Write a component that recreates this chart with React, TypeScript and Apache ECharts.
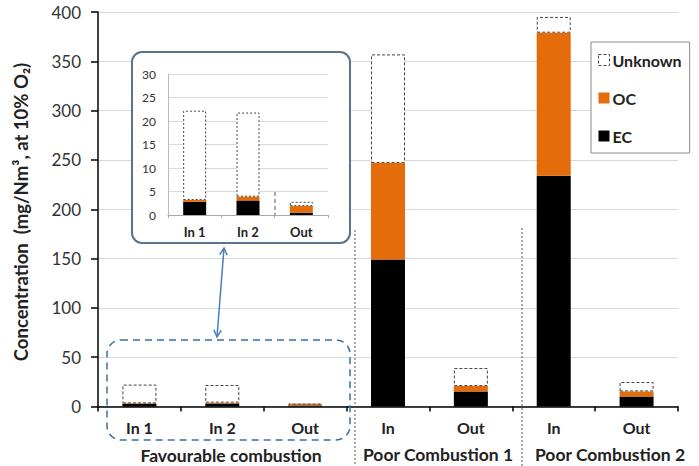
import React, { useEffect, useRef } from "react";
import * as echarts from "echarts";

const categories = ["In 1", "In 2", "Out", "In", "Out", "In", "Out"];
const ecValues = [2.8, 3.1, 0.5, 149, 15.3, 234, 10.2];
const ocValues = [0.4, 0.8, 1.4, 98, 5.4, 145, 5.1];
const unknownValues = [19, 17.9, 0.9, 110, 18.3, 16, 9.5];

const insetCategories = ["In 1", "In 2", "Out"];
const insetEc = [2.8, 3.1, 0.5];
const insetOc = [0.4, 0.8, 1.4];
const insetUnknown = [19, 17.9, 0.9];

const groupLabels = ["Favourable combustion", "Poor Combustion 1", "Poor Combustion 2"];
const yTitle = "Concentration  (mg/Nm³, at 10% O₂)";

const FONT = "Lato, 'Open Sans', sans-serif";
const ORANGE = "#E46C0A";
const unknownStyle = {
  color: "#ffffff",
  borderColor: "#444",
  borderType: [3, 2] as any,
  borderWidth: 1,
};

export default function App() {
  const ref = useRef<HTMLDivElement>(null);
  useEffect(() => {
    if (!ref.current) return;
    const chart = echarts.init(ref.current, undefined, { renderer: "svg" });
    const groupText = (text: string, x: number, y: number) => ({
      type: "text",
      z: 10,
      x,
      y,
      style: { text, fontFamily: FONT, fontSize: 17.5, fontWeight: "bold", fill: "#222", align: "center", verticalAlign: "middle" },
    });
    const option: any = {
      animation: false,
      backgroundColor: "#ffffff",
      textStyle: { fontFamily: FONT },
      grid: [
        { left: 98, top: 12, width: 580, height: 394.5, containLabel: false },
        { left: 168, top: 74, width: 160, height: 141, containLabel: false },
      ],
      legend: {
        orient: "vertical",
        left: 591,
        top: 42,
        width: 98,
        padding: [10, 8, 9, 7],
        itemGap: 22,
        itemWidth: 11,
        itemHeight: 11,
        backgroundColor: "#fff",
        borderColor: "#8c8c8c",
        borderWidth: 1,
        textStyle: { fontFamily: FONT, fontWeight: "bold", fontSize: 16, color: "#222", padding: [0, 0, 0, -2] },
        data: [
          { name: "Unknown", icon: "rect", itemStyle: unknownStyle },
          { name: "OC", icon: "rect" },
          { name: "EC", icon: "rect" },
        ],
      },
      xAxis: [
        {
          type: "category",
          gridIndex: 0,
          data: categories,
          axisLine: { lineStyle: { color: "#000", width: 1.5 } },
          axisTick: { show: true, length: 5, lineStyle: { color: "#000", width: 1.5 } },
          axisLabel: { fontFamily: FONT, fontSize: 16, fontWeight: "bold", color: "#222", margin: 13 },
          z: 0,
        },
        {
          type: "category",
          gridIndex: 1,
          data: insetCategories,
          axisLine: { lineStyle: { color: "#aaa", width: 1 } },
          axisTick: { show: true, length: 3, lineStyle: { color: "#aaa" } },
          axisLabel: { fontFamily: FONT, fontSize: 13, fontWeight: "bold", color: "#222", margin: 10 },
          z: 5,
        },
      ],
      yAxis: [
        {
          type: "value",
          gridIndex: 0,
          min: 0,
          max: 400,
          interval: 50,
          axisLine: { show: true, lineStyle: { color: "#000", width: 1.5 } },
          axisTick: { show: true, length: 7, lineStyle: { color: "#000", width: 1.5 } },
          axisLabel: { fontFamily: FONT, fontSize: 17, color: "#333", margin: 17 },
          splitLine: { lineStyle: { color: "#d9d9d9", width: 1 } },
          z: 0,
        },
        {
          type: "value",
          gridIndex: 1,
          min: 0,
          max: 30,
          interval: 5,
          axisLine: { show: true, lineStyle: { color: "#bbb", width: 1 } },
          axisTick: { show: false },
          axisLabel: { fontFamily: FONT, fontSize: 12, color: "#333", margin: 12 },
          splitLine: { lineStyle: { color: "#d9d9d9", width: 1 } },
          z: 5,
        },
      ],
      series: [
        { name: "EC", type: "bar", stack: "main", xAxisIndex: 0, yAxisIndex: 0, barWidth: 34, itemStyle: { color: "#000" }, data: ecValues },
        { name: "OC", type: "bar", stack: "main", xAxisIndex: 0, yAxisIndex: 0, barWidth: 34, itemStyle: { color: ORANGE }, data: ocValues },
        { name: "Unknown", type: "bar", stack: "main", xAxisIndex: 0, yAxisIndex: 0, barWidth: 34, itemStyle: unknownStyle, data: unknownValues },
        { name: "EC", type: "bar", stack: "inset", xAxisIndex: 1, yAxisIndex: 1, barWidth: 23, z: 6, itemStyle: { color: "#000" }, data: insetEc },
        { name: "OC", type: "bar", stack: "inset", xAxisIndex: 1, yAxisIndex: 1, barWidth: 23, z: 6, itemStyle: { color: ORANGE }, data: insetOc },
        { name: "Unknown", type: "bar", stack: "inset", xAxisIndex: 1, yAxisIndex: 1, barWidth: 23, z: 6, itemStyle: { ...unknownStyle, borderType: [2, 2] }, data: insetUnknown },
      ],
      graphic: {
        elements: [
          {
            type: "rect",
            z: 3,
            shape: { x: 132, y: 52, width: 218, height: 191, r: 10 },
            style: { fill: "#fff", stroke: "#5a7391", lineWidth: 2 },
          },
          {
            type: "line",
            z: 7,
            shape: { x1: 275, y1: 192, x2: 275, y2: 215 },
            style: { stroke: "#555", lineWidth: 1, lineDash: [4, 3] },
          },
          {
            type: "rect",
            z: 10,
            shape: { x: 107, y: 340, width: 243, height: 100, r: 14 },
            style: { fill: "none", stroke: "#3d6e9e", lineWidth: 1.5, lineDash: [7, 5] },
          },
          {
            type: "line",
            z: 10,
            shape: { x1: 224, y1: 248, x2: 217, y2: 337 },
            style: { stroke: "#4a7ebb", lineWidth: 1.5 },
          },
          {
            type: "polyline",
            z: 10,
            shape: { points: [[219.7, 254.7], [224, 248], [227.2, 255.3]] },
            style: { stroke: "#4a7ebb", lineWidth: 1.5, fill: "none" },
          },
          {
            type: "polyline",
            z: 10,
            shape: { points: [[221.3, 330.3], [217, 337], [213.8, 329.7]] },
            style: { stroke: "#4a7ebb", lineWidth: 1.5, fill: "none" },
          },
          {
            type: "line",
            z: 10,
            shape: { x1: 355, y1: 230, x2: 355, y2: 466 },
            style: { stroke: "#555", lineWidth: 1, lineDash: [2, 2] },
          },
          {
            type: "line",
            z: 10,
            shape: { x1: 522, y1: 228, x2: 522, y2: 466 },
            style: { stroke: "#555", lineWidth: 1, lineDash: [2, 2] },
          },
          {
            type: "text",
            z: 10,
            x: 21,
            y: 212,
            rotation: Math.PI / 2,
            style: { text: yTitle, fontFamily: FONT, fontSize: 18.5, fontWeight: "bold", fill: "#222", align: "center", verticalAlign: "middle" },
          },
          groupText(groupLabels[0], 231, 455),
          groupText(groupLabels[1], 438, 454),
          groupText(groupLabels[2], 610, 454),
        ],
      },
    };
    chart.setOption(option);
    return () => chart.dispose();
  }, []);
  return (
    <div
      ref={ref}
      style={{ position: "fixed", left: 0, top: 0, width: 699, height: 466, background: "#fff" }}
    />
  );
}
